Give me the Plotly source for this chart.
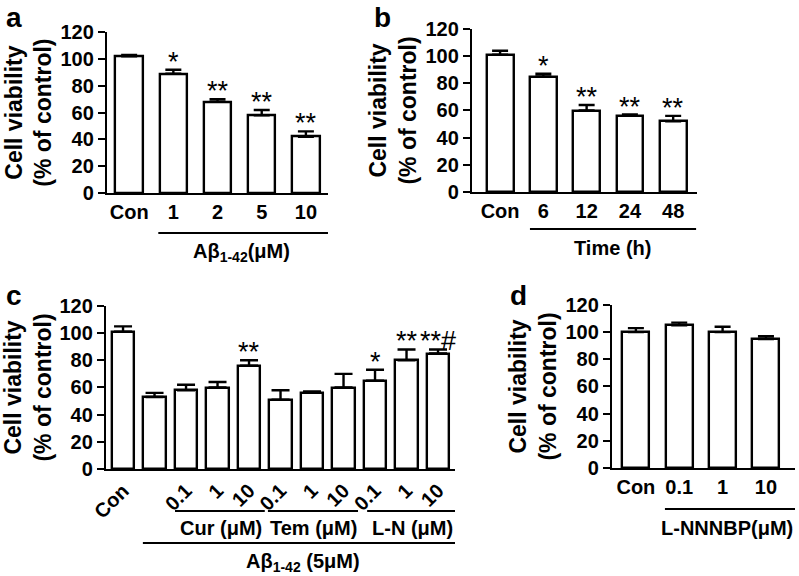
import plotly.graph_objects as go

# ---------------- data ----------------
a_labels = ["Con", "1", "2", "5", "10"]
a_values = [102, 89, 68, 58, 42]
a_errors = [1, 3, 2, 4, 4]
a_sig = ["", "*", "**", "**", "**"]

b_labels = ["Con", "6", "12", "24", "48"]
b_values = [101, 85, 60, 56, 52]
b_errors = [3, 2, 4, 1, 4]
b_sig = ["", "*", "**", "**", "**"]

c_labels = ["Con", "", "0.1", "1", "10", "0.1", "1", "10", "0.1", "1", "10"]
c_values = [101, 53, 58, 60, 76, 51, 56, 60, 65, 80, 85]
c_errors = [4, 3, 4, 4, 4, 7, 1, 10, 8, 8, 3]
c_sig = ["", "", "", "", "**", "", "", "", "*", "**", "**#"]

d_labels = ["Con", "0.1", "1", "10"]
d_values = [100, 105, 100, 95]
d_errors = [3, 2, 4, 2]
d_sig = ["", "", "", ""]

y_ticks = [0, 20, 40, 60, 80, 100, 120]

FONT = "Liberation Sans, Arial, sans-serif"

fig = go.Figure()
annotations = []

panels = [
    # labels, values, errors, sig, xaxis id, yaxis id, bar width, cap, domain x, domain y, xrange
    (a_labels, a_values, a_errors, a_sig, "x", "y", 0.62, 8, [0.134, 0.4105], [0.665, 0.944], [-0.5, 4.5]),
    (b_labels, b_values, b_errors, b_sig, "x2", "y2", 0.62, 8, [0.5907, 0.8723], [0.6667, 0.9497], [-0.65, 4.55]),
    (c_labels, c_values, c_errors, c_sig, "x3", "y3", 0.70, 9, [0.1327, 0.5695], [0.1858, 0.4688], [-0.54, 10.54]),
    (d_labels, d_values, d_errors, d_sig, "x4", "y4", 0.62, 8, [0.766, 0.995], [0.1875, 0.4705], [-0.55, 3.67]),
]

for i, (labels, vals, errs, sig, xa, ya, bw, cap, dx, dy, xr) in enumerate(panels):
    xs = list(range(len(labels)))
    fig.add_trace(go.Bar(
        x=xs, y=vals, width=bw, xaxis=xa, yaxis=ya,
        marker=dict(color="white", line=dict(color="black", width=2.4)),
        error_y=dict(type="data", array=errs, arrayminus=[0] * len(errs), symmetric=False,
                     color="black", thickness=2.4, width=cap),
        showlegend=False, hoverinfo="skip",
    ))
    for x, v, e, s in zip(xs, vals, errs, sig):
        if s:
            annotations.append(dict(
                text=s, xref=xa, yref=ya, x=x, y=v + e, xanchor="center", yanchor="bottom",
                yshift=-9, showarrow=False,
                font=dict(family=FONT, size=27, color="black"),
            ))
    suffix = "" if i == 0 else str(i + 1)
    fig.layout["xaxis" + suffix] = dict(
        domain=dx, anchor=ya, range=xr, tickmode="array", tickvals=xs, ticktext=labels,
        showline=True, linecolor="black", linewidth=2.4, ticks="", showgrid=False, zeroline=False,
        tickfont=dict(family=FONT, size=20, color="black", weight="bold"),
        tickangle=-45 if i == 2 else 0, fixedrange=True, automargin=False,
    )
    fig.layout["yaxis" + suffix] = dict(
        domain=dy, anchor=xa, range=[0, 120], tickmode="array", tickvals=y_ticks,
        showline=True, linecolor="black", linewidth=2.4, ticks="outside", ticklen=7,
        tickwidth=2.4, tickcolor="black", showgrid=False, zeroline=False,
        tickfont=dict(family=FONT, size=20, color="black", weight="bold"),
        title=dict(text="Cell viability<br>(% of control)", standoff=2,
                   font=dict(family=FONT, size=23, color="black", weight="bold")),
        fixedrange=True, automargin=False,
    )

line_style = dict(color="black", width=2)
shapes = [
    dict(type="line", xref="x", yref="paper", x0=0.66, x1=4.5, y0=0.5955, y1=0.5955, line=line_style),
    dict(type="line", xref="x2", yref="paper", x0=0.69, x1=4.53, y0=0.6024, y1=0.6024, line=line_style),
    dict(type="line", xref="x3", yref="paper", x0=1.65, x1=4.5, y0=0.1128, y1=0.1128, line=line_style),
    dict(type="line", xref="x3", yref="paper", x0=4.6, x1=7.46, y0=0.1128, y1=0.1128, line=line_style),
    dict(type="line", xref="x3", yref="paper", x0=7.75, x1=10.63, y0=0.1128, y1=0.1128, line=line_style),
    dict(type="line", xref="x3", yref="paper", x0=0.63, x1=10.8, y0=0.0573, y1=0.0573, line=line_style),
    dict(type="line", xref="x4", yref="paper", x0=0.67, x1=3.67, y0=0.1163, y1=0.1163, line=line_style),
]

lab_font = dict(family=FONT, size=20, color="black", weight="bold")
letter_font = dict(family=FONT, size=28, color="black", weight="bold")
mid = dict(showarrow=False, font=lab_font, xanchor="center", yanchor="middle")
annotations += [
    dict(text="A\u03b2<sub>1-42</sub>(\u03bcM)", xref="x", yref="paper", x=2.55, y=0.561, **mid),
    dict(text="Time (h)", xref="x2", yref="paper", x=2.6, y=0.569, **mid),
    dict(text="Cur (\u03bcM)", xref="x3", yref="paper", x=3.1, y=0.0833, **mid),
    dict(text="Tem (\u03bcM)", xref="x3", yref="paper", x=6.05, y=0.0833, **mid),
    dict(text="L-N (\u03bcM)", xref="x3", yref="paper", x=9.2, y=0.0833, **mid),
    dict(text="A\u03b2<sub>1-42</sub> (5\u03bcM)", xref="x3", yref="paper", x=5.7, y=0.0226, **mid),
    dict(text="L-NNNBP(\u03bcM)", xref="x4", yref="paper", x=2.1, y=0.0833, **mid),
    dict(text="a", xref="paper", yref="paper", x=0.005, y=1.0, xanchor="left", yanchor="top", showarrow=False, font=letter_font),
    dict(text="b", xref="paper", yref="paper", x=0.465, y=1.0, xanchor="left", yanchor="top", showarrow=False, font=letter_font),
    dict(text="c", xref="paper", yref="paper", x=0.005, y=0.517, xanchor="left", yanchor="top", showarrow=False, font=letter_font),
    dict(text="d", xref="paper", yref="paper", x=0.636, y=0.517, xanchor="left", yanchor="top", showarrow=False, font=letter_font),
]

fig.update_layout(
    width=799, height=576, margin=dict(l=0, r=0, t=0, b=0, autoexpand=False),
    paper_bgcolor="white", plot_bgcolor="white",
    shapes=shapes, annotations=annotations, bargap=0,
    font=dict(family=FONT, color="black"),
)

fig.write_html(
    "out.html",
    config={"displayModeBar": False},
    post_script="document.body.style.margin='0px';document.body.style.overflow='hidden';",
)
